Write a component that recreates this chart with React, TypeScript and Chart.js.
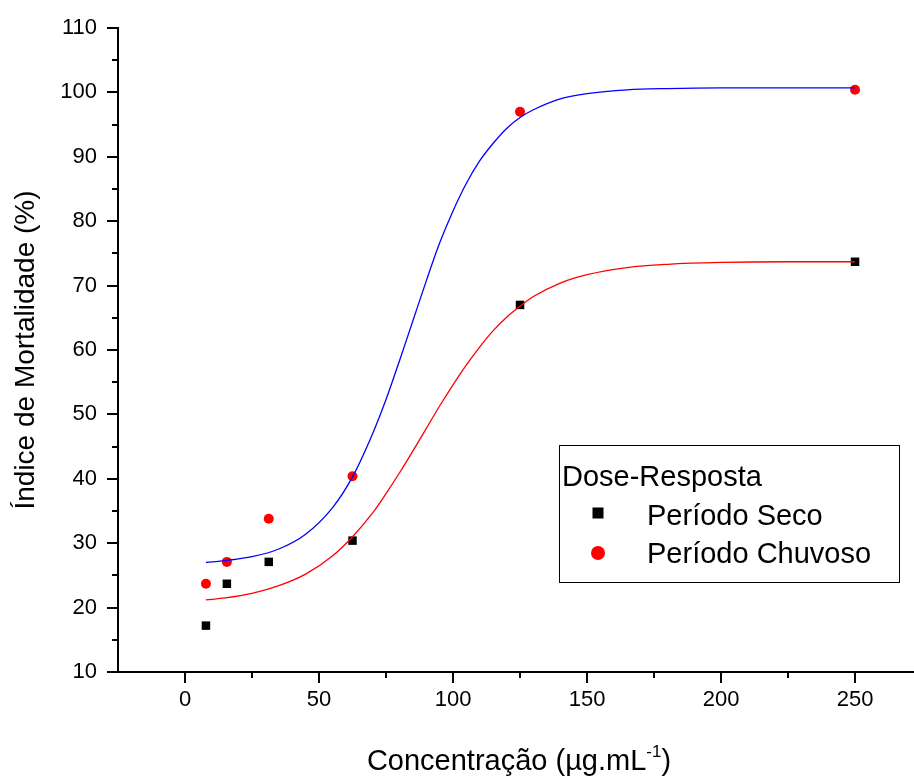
import React, { useEffect, useRef } from 'react';
import { Chart, registerables } from 'chart.js';

Chart.register(...registerables);

// ---- data ----
const concentrations = [7.8125, 15.625, 31.25, 62.5, 125, 250];
const secoValues = [17.2, 23.7, 27.1, 30.4, 67.0, 73.7];
const chuvosoValues = [23.7, 27.1, 33.8, 40.4, 97.0, 100.4];

// fitted dose-response curves
const fitX = [7.8, 15, 25, 35, 45, 55, 62.5, 70, 75, 80, 85, 90, 95, 100, 105, 110, 115, 120, 125, 130, 140, 150, 165, 180, 200, 225, 250];
const fitChuvosoY = [27.0, 27.3, 27.9, 29.1, 31.4, 35.5, 40.3, 47.0, 52.3, 58.3, 64.5, 70.7, 76.6, 81.6, 85.9, 89.4, 92.1, 94.4, 96.1, 97.3, 99.0, 99.8, 100.4, 100.6, 100.7, 100.7, 100.7];
const fitSecoY = [21.2, 21.5, 22.2, 23.4, 25.2, 28.0, 31.0, 34.7, 37.7, 40.9, 44.3, 47.8, 51.3, 54.6, 57.7, 60.5, 63.0, 65.1, 66.8, 68.3, 70.4, 71.7, 72.8, 73.3, 73.6, 73.7, 73.7];

const xMajorTicks = [0, 50, 100, 150, 200, 250];
const xMinorTicks = [25, 75, 125, 175, 225];
const yMajorTicks = [10, 20, 30, 40, 50, 60, 70, 80, 90, 100, 110];
const yMinorTicks = [15, 25, 35, 45, 55, 65, 75, 85, 95, 105];

const legendTitle = 'Dose-Resposta';
const seriesNames = ['Período Seco', 'Período Chuvoso'];
const yTitle = 'Índice de Mortalidade (%)';
const xTitleMain = 'Concentração (µg.mL';
const xTitleSup = '-1';
const xTitleEnd = ')';

const FONT = '"Liberation Sans", Arial, sans-serif';

const toPts = (xs: number[], ys: number[]) => xs.map((x, i) => ({ x, y: ys[i] }));

const decorPlugin = {
  id: 'decor',
  afterDraw(chart: any) {
    const ctx = chart.ctx as CanvasRenderingContext2D;
    const xs = chart.scales.x;
    const ys = chart.scales.y;
    const area = chart.chartArea;
    ctx.save();
    // minor ticks
    ctx.strokeStyle = '#000';
    ctx.lineWidth = 2;
    ctx.beginPath();
    for (const v of xMinorTicks) {
      const px = Math.round(xs.getPixelForValue(v));
      ctx.moveTo(px, area.bottom);
      ctx.lineTo(px, area.bottom + 6);
    }
    for (const v of yMinorTicks) {
      const py = Math.round(ys.getPixelForValue(v));
      ctx.moveTo(area.left, py);
      ctx.lineTo(area.left - 6, py);
    }
    ctx.stroke();

    // y title
    ctx.fillStyle = '#000';
    ctx.font = `28px ${FONT}`;
    ctx.save();
    ctx.translate(26, (area.top + area.bottom) / 2);
    ctx.rotate(-Math.PI / 2);
    ctx.textAlign = 'center';
    ctx.textBaseline = 'middle';
    ctx.fillText(yTitle, 0, 0);
    ctx.restore();

    // x title with superscript
    ctx.textBaseline = 'alphabetic';
    ctx.textAlign = 'left';
    const mainFont = `29px ${FONT}`;
    const supFont = `17px ${FONT}`;
    ctx.font = mainFont;
    const w1 = ctx.measureText(xTitleMain).width;
    const w3 = ctx.measureText(xTitleEnd).width;
    ctx.font = supFont;
    const w2 = ctx.measureText(xTitleSup).width;
    const total = w1 + w2 + w3;
    let cx = (area.left + area.right) / 2 + 3 - total / 2;
    const base = 770;
    ctx.font = mainFont;
    ctx.fillText(xTitleMain, cx, base);
    cx += w1;
    ctx.font = supFont;
    ctx.fillText(xTitleSup, cx, base - 13);
    cx += w2;
    ctx.font = mainFont;
    ctx.fillText(xTitleEnd, cx, base);

    // legend
    ctx.lineWidth = 1;
    ctx.strokeRect(559.5, 445.5, 340, 137);
    ctx.font = `29px ${FONT}`;
    ctx.fillText(legendTitle, 562, 486);
    ctx.fillRect(598 - 5.5, 513 - 5.5, 11, 11);
    ctx.fillText(seriesNames[0], 647, 525);
    ctx.fillStyle = '#ff0000';
    ctx.beginPath();
    ctx.arc(598, 553, 7, 0, Math.PI * 2);
    ctx.fill();
    ctx.fillStyle = '#000';
    ctx.fillText(seriesNames[1], 647, 563);
    ctx.restore();
  },
};

export default function App() {
  const ref = useRef<HTMLCanvasElement | null>(null);
  useEffect(() => {
    document.body.style.margin = '0';
    if (!ref.current) return;
    const chart = new Chart(ref.current, {
      type: 'scatter',
      data: {
        datasets: [
          {
            label: 'fit chuvoso',
            data: toPts(fitX, fitChuvosoY),
            showLine: true,
            borderColor: '#0000ff',
            borderWidth: 1.3,
            pointRadius: 0,
            cubicInterpolationMode: 'monotone',
          } as any,
          {
            label: 'fit seco',
            data: toPts(fitX, fitSecoY),
            showLine: true,
            borderColor: '#ff0000',
            borderWidth: 1.3,
            pointRadius: 0,
            cubicInterpolationMode: 'monotone',
          } as any,
          {
            label: seriesNames[0],
            data: toPts(concentrations, secoValues),
            pointStyle: 'rect',
            pointRadius: 6,
            backgroundColor: '#000',
            borderColor: '#000',
            borderWidth: 0,
          },
          {
            label: seriesNames[1],
            data: toPts(concentrations, chuvosoValues),
            pointStyle: 'circle',
            pointRadius: 5,
            backgroundColor: '#ff0000',
            borderColor: '#ff0000',
            borderWidth: 0,
          },
        ],
      },
      options: {
        animation: false,
        responsive: false,
        layout: { autoPadding: false, padding: { top: 28, right: 0, left: 0, bottom: 0 } },
        plugins: { legend: { display: false }, tooltip: { enabled: false } },
        scales: {
          x: {
            type: 'linear',
            min: -25,
            max: 272,
            afterBuildTicks: (s: any) => {
              s.ticks = xMajorTicks.map((v) => ({ value: v }));
            },
            afterFit: (s: any) => {
              s.height = 104;
              s.paddingLeft = 0;
              s.paddingRight = 0;
            },
            grid: { drawOnChartArea: false, drawTicks: true, tickLength: 11, color: '#000', lineWidth: 2 },
            border: { display: true, color: '#000', width: 2 },
            ticks: { color: '#000', font: { family: FONT, size: 22 }, padding: 4, maxRotation: 0 },
          },
          y: {
            type: 'linear',
            min: 10,
            max: 110,
            afterBuildTicks: (s: any) => {
              s.ticks = yMajorTicks.map((v) => ({ value: v }));
            },
            afterFit: (s: any) => {
              s.width = 118;
            },
            grid: { drawOnChartArea: false, drawTicks: true, tickLength: 11, color: '#000', lineWidth: 2 },
            border: { display: true, color: '#000', width: 2 },
            ticks: { color: '#000', font: { family: FONT, size: 22 }, padding: 10 },
          },
        },
      },
      plugins: [decorPlugin],
    });
    return () => chart.destroy();
  }, []);
  return (
    <div style={{ width: 914, height: 776 }}>
      <canvas ref={ref} width={914} height={776} />
    </div>
  );
}
